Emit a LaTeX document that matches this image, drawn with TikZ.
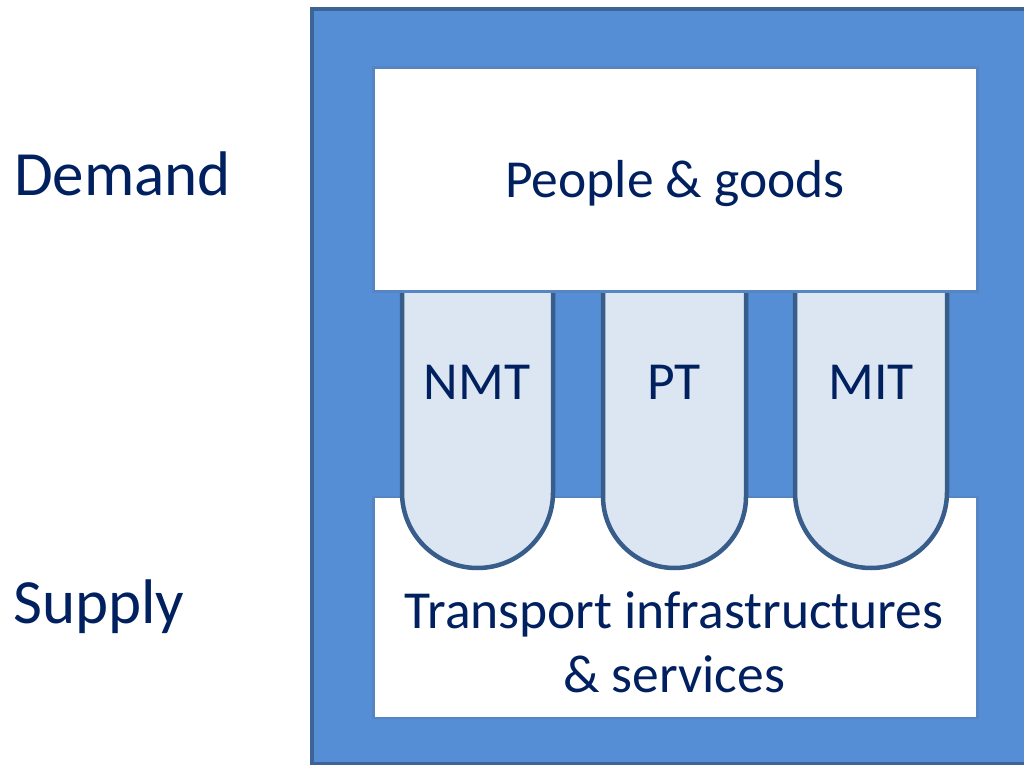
\documentclass[tikz,border=0pt]{standalone}
\usepackage{fontspec}
\setmainfont{Carlito}
\usepackage{tikz}
\usetikzlibrary{positioning}
\usepackage{xcolor}

\definecolor{framefill}{HTML}{558ED5}
\definecolor{frameedge}{HTML}{3C6496}
\definecolor{boxedge}{HTML}{5585C2}
\definecolor{pillfill}{HTML}{DCE6F2}
\definecolor{pilledge}{HTML}{385D8A}
\definecolor{navytext}{HTML}{002060}

\begin{document}
\begin{tikzpicture}[
		x=1pt, y=1pt,
		% Style definitions
		sidelabel/.style={font=\fontsize{63}{70}\selectfont, text=navytext, inner sep=0pt},
		boxlabel/.style={font=\fontsize{53.5}{64}\selectfont, text=navytext, align=center, inner sep=0pt},
		whitebox/.style={draw=boxedge, line width=2.5pt, fill=white, inner sep=0pt},
		pill/.style={draw=pilledge, line width=4.5pt, fill=pillfill},
		]
		\useasboundingbox (0,0) rectangle (1024,764);
		\clip (0,0) rectangle (1024,764);

		% === Outer blue frame ===
		\draw[fill=framefill, draw=frameedge, line width=4pt] (312,0) rectangle (1040,755);

		% === Supply box (behind the pills) ===
		\node[whitebox, minimum width=604, minimum height=221, anchor=south west] (supplybox) at (372,45) {};

		% === Mode pills ===
		\draw[pill] (402,479) -- (402,271.5) arc[start angle=180, end angle=360, radius=75.5] -- (553,479);
		\draw[pill] (603,479) -- (603,267.5) arc[start angle=180, end angle=360, radius=71.5] -- (746,479);
		\draw[pill] (795,479) -- (795,272) arc[start angle=180, end angle=360, radius=76] -- (947,479);

		% === Demand box (over the pill tops) ===
		\node[whitebox, minimum width=604, minimum height=224, anchor=south west] (demandbox) at (372,471) {};

		% === Texts ===
		\node[boxlabel, anchor=base] (people) at (675,566) {People \& goods};
		\node[boxlabel, anchor=base] (nmt) at (477,365) {NMT};
		\node[boxlabel, anchor=base] (pt) at (674,365) {PT};
		\node[boxlabel, anchor=base] (mit) at (871,365) {MIT};
		\node[boxlabel, anchor=base] (transport) at (674,72) {Transport infrastructures\\\& services};

		% Side labels
		\node[sidelabel, anchor=base west] (demand) at (14,568) {Demand};
		\node[sidelabel, anchor=base west] (supply) at (13,141) {Supply};

	\end{tikzpicture}
\end{document}
